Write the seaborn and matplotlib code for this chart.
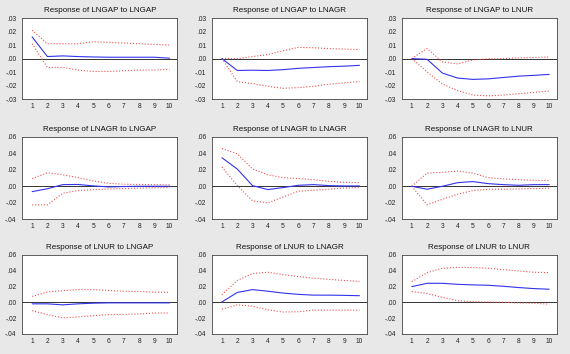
import numpy as np
import pandas as pd
import matplotlib
matplotlib.use("Agg")
import matplotlib.pyplot as plt
import seaborn as sns

# periods
periods = list(range(1, 11))

# impulse responses (response, upper band, lower band)
gap_gap = [0.016, 0.0015, 0.002, 0.0015, 0.0012, 0.001, 0.001, 0.001, 0.001, 0.0003]
gap_gap_hi = [0.021, 0.011, 0.011, 0.011, 0.0125, 0.012, 0.0115, 0.011, 0.0105, 0.010]
gap_gap_lo = [0.011, -0.0065, -0.0065, -0.0085, -0.0095, -0.0095, -0.009, -0.0085, -0.0085, -0.008]

gap_agr = [0.0, -0.0088, -0.0086, -0.0088, -0.0082, -0.0072, -0.0066, -0.006, -0.0056, -0.005]
gap_agr_hi = [0.0, 0.0, 0.0015, 0.003, 0.0058, 0.0083, 0.008, 0.0074, 0.007, 0.0066]
gap_agr_lo = [0.0, -0.017, -0.0185, -0.0205, -0.022, -0.0215, -0.0205, -0.019, -0.018, -0.017]

gap_ur = [0.0, -0.0005, -0.0107, -0.0144, -0.0154, -0.015, -0.014, -0.013, -0.0124, -0.0117]
gap_ur_hi = [0.0, 0.0075, -0.0025, -0.0039, -0.001, -0.0002, 0.0, 0.0005, 0.0008, 0.0012]
gap_ur_lo = [0.0, -0.0098, -0.0188, -0.0237, -0.027, -0.0276, -0.027, -0.026, -0.025, -0.024]

agr_gap = [-0.0065, -0.003, 0.002, 0.0022, 0.0005, -0.0008, -0.0003, 0.0, 0.0, 0.0]
agr_gap_hi = [0.0093, 0.0165, 0.014, 0.0105, 0.0065, 0.0037, 0.0025, 0.0022, 0.002, 0.0018]
agr_gap_lo = [-0.0226, -0.0226, -0.0085, -0.0053, -0.004, -0.0033, -0.0028, -0.0022, -0.0018, -0.0015]

agr_agr = [0.0347, 0.021, 0.0008, -0.004, -0.0016, 0.0012, 0.002, 0.0008, 0.0004, 0.0004]
agr_agr_hi = [0.046, 0.0396, 0.021, 0.014, 0.0105, 0.0093, 0.008, 0.006, 0.0048, 0.0044]
agr_agr_lo = [0.0234, 0.0008, -0.0178, -0.0202, -0.013, -0.006, -0.0048, -0.0036, -0.002, -0.0016]

agr_ur = [0.0, -0.0036, 0.0, 0.0044, 0.0057, 0.0032, 0.002, 0.0012, 0.002, 0.002]
agr_ur_hi = [0.0, 0.016, 0.017, 0.0186, 0.016, 0.0105, 0.009, 0.008, 0.0073, 0.0069]
agr_ur_lo = [0.0, -0.0226, -0.0158, -0.0097, -0.0053, -0.0036, -0.0036, -0.0032, -0.0028, -0.0024]

ur_gap = [-0.002, -0.002, -0.0033, -0.002, -0.0012, -0.0008, -0.0008, -0.0008, -0.0008, -0.0008]
ur_gap_hi = [0.0074, 0.013, 0.0148, 0.016, 0.016, 0.015, 0.014, 0.0136, 0.0128, 0.0124]
ur_gap_lo = [-0.0107, -0.0157, -0.0198, -0.0186, -0.017, -0.0157, -0.0153, -0.0148, -0.0136, -0.0136]

ur_agr = [0.0004, 0.0124, 0.016, 0.014, 0.0116, 0.01, 0.009, 0.009, 0.0087, 0.0083]
ur_agr_hi = [0.0095, 0.0276, 0.0363, 0.038, 0.035, 0.0326, 0.0305, 0.029, 0.0276, 0.0264]
ur_agr_lo = [-0.0087, -0.0033, -0.005, -0.0095, -0.0124, -0.012, -0.01, -0.01, -0.01, -0.01]

ur_ur = [0.0198, 0.024, 0.024, 0.0227, 0.022, 0.0215, 0.0202, 0.0186, 0.0173, 0.0165]
ur_ur_hi = [0.026, 0.0375, 0.043, 0.0442, 0.044, 0.043, 0.0413, 0.0396, 0.038, 0.0375]
ur_ur_lo = [0.0136, 0.0111, 0.0062, 0.002, 0.0008, 0.0004, 0.0, -0.0008, -0.0012, -0.0025]

titles = [
    "Response of LNGAP to LNGAP", "Response of LNGAP to LNAGR", "Response of LNGAP to LNUR",
    "Response of LNAGR to LNGAP", "Response of LNAGR to LNAGR", "Response of LNAGR to LNUR",
    "Response of LNUR to LNGAP", "Response of LNUR to LNAGR", "Response of LNUR to LNUR",
]
panels = [
    (gap_gap, gap_gap_hi, gap_gap_lo), (gap_agr, gap_agr_hi, gap_agr_lo), (gap_ur, gap_ur_hi, gap_ur_lo),
    (agr_gap, agr_gap_hi, agr_gap_lo), (agr_agr, agr_agr_hi, agr_agr_lo), (agr_ur, agr_ur_hi, agr_ur_lo),
    (ur_gap, ur_gap_hi, ur_gap_lo), (ur_agr, ur_agr_hi, ur_agr_lo), (ur_ur, ur_ur_hi, ur_ur_lo),
]

# y-axis ticks: top row vs. other rows
yticks_top = [-0.03, -0.02, -0.01, 0.0, 0.01, 0.02, 0.03]
ylabels_top = ["-.03", "-.02", "-.01", ".00", ".01", ".02", ".03"]
yticks_low = [-0.04, -0.02, 0.0, 0.02, 0.04, 0.06]
ylabels_low = ["-.04", "-.02", ".00", ".02", ".04", ".06"]

sns.set_style("white")
plt.rcParams['font.family'] = ['Liberation Sans', 'DejaVu Sans']

fig = plt.figure(figsize=(5.7, 3.54), dpi=100, facecolor="#e8e8e8")

col_left = [0.039, 0.372, 0.705]
row_bottom = [0.72, 0.381, 0.057]
row_height = [0.229, 0.232, 0.223]
width = 0.272

for i, (title, (resp, hi, lo)) in enumerate(zip(titles, panels)):
    r, c = divmod(i, 3)
    ax = fig.add_axes([col_left[c], row_bottom[r], width, row_height[r]])
    df = pd.DataFrame({"period": periods, "resp": resp, "hi": hi, "lo": lo})

    ax.axhline(0, color="#333333", lw=0.7, zorder=1)
    sns.lineplot(data=df, x="period", y="hi", ax=ax, color="#f05050", lw=0.8, linestyle=":")
    sns.lineplot(data=df, x="period", y="lo", ax=ax, color="#f05050", lw=0.8, linestyle=":")
    sns.lineplot(data=df, x="period", y="resp", ax=ax, color="#3333ee", lw=0.8)

    ax.set_xlim(0.35, 10.5)
    if r == 0:
        ax.set_ylim(-0.03, 0.03)
        ax.set_yticks(yticks_top)
        ax.set_yticklabels(ylabels_top)
    else:
        ax.set_ylim(-0.04, 0.06)
        ax.set_yticks(yticks_low)
        ax.set_yticklabels(ylabels_low)

    # labels on integers, tick marks between them
    ax.set_xticks(periods)
    ax.set_xticklabels([str(p) for p in periods])
    ax.set_xticks(np.arange(1.5, 10.5, 1.0), minor=True)
    ax.tick_params(axis="x", which="major", length=0, labelsize=4.8, pad=3, colors="#222222")
    ax.tick_params(axis="x", which="minor", length=2.5, width=0.5, direction="out", color="#333333")
    ax.tick_params(axis="y", which="major", length=2.5, width=0.5, direction="out",
                   labelsize=4.8, pad=1.5, colors="#222222")
    ax.tick_params(axis="y", colors="#333333", labelcolor="#222222")

    ax.set_xlabel("")
    ax.set_ylabel("")
    ax.set_title(title, fontsize=5.8, pad=4, color="#111111")
    for s in ax.spines.values():
        s.set_linewidth(0.6)
        s.set_color("#444444")
    ax.set_facecolor("white")

fig.savefig("out.png", dpi=100, facecolor=fig.get_facecolor())
